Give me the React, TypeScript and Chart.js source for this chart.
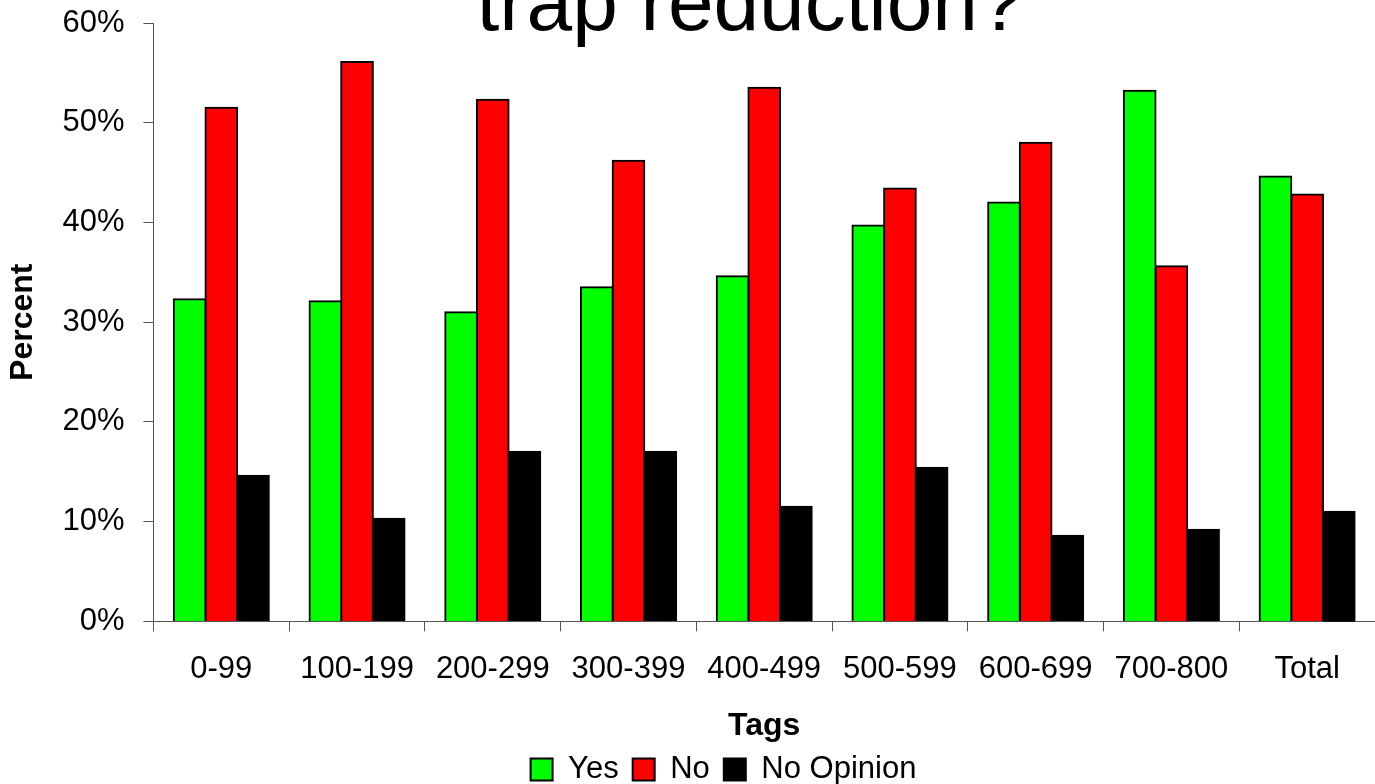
import React, { useEffect, useRef } from "react";
import { Chart, registerables } from "chart.js";

Chart.register(...registerables);

const categories = ["0-99", "100-199", "200-299", "300-399", "400-499", "500-599", "600-699", "700-800", "Total"];
const yesValues = [32.3, 32.1, 31.0, 33.5, 34.6, 39.7, 42.0, 53.2, 44.6];
const noValues = [51.5, 56.1, 52.3, 46.2, 53.5, 43.4, 48.0, 35.6, 42.8];
const noOpinionValues = [14.6, 10.3, 17.0, 17.0, 11.5, 15.4, 8.6, 9.2, 11.0];
const seriesNames = ["Yes", "No", "No Opinion"];
const titleText = "trap reduction?";

const FONT = "'Liberation Sans', Arial, sans-serif";

const titlePlugin = {
  id: "topTitle",
  afterLayout(chart: any) {
    // the original legend sits a little right of the canvas centre
    if (chart.legend) {
      chart.legend.left += 36;
      chart.legend.right += 36;
    }
  },
  afterDraw(chart: any) {
    const ctx = chart.ctx;
    ctx.save();
    ctx.font = `82px ${FONT}`;
    ctx.fillStyle = "#000";
    ctx.textAlign = "center";
    ctx.textBaseline = "alphabetic";
    ctx.fillText(titleText, 750, 30);
    ctx.restore();
  },
};

const noOverflow = (scale: any) => {
  scale.paddingTop = 0;
  scale.paddingBottom = 0;
  scale.paddingLeft = 0;
  scale.paddingRight = 0;
};

export default function App() {
  const ref = useRef<HTMLCanvasElement | null>(null);
  useEffect(() => {
    if (!ref.current) return;
    const barStyle = { borderColor: "#000", borderWidth: 2, inflateAmount: 1 };
    const chart = new Chart(ref.current, {
      type: "bar",
      data: {
        labels: categories,
        datasets: [
          { label: seriesNames[0], data: yesValues, backgroundColor: "#00FF00", ...barStyle },
          { label: seriesNames[1], data: noValues, backgroundColor: "#FF0000", ...barStyle },
          { label: seriesNames[2], data: noOpinionValues, backgroundColor: "#000000", ...barStyle },
        ],
      },
      options: {
        animation: false,
        responsive: true,
        maintainAspectRatio: false,
        layout: { padding: { top: 23, right: 0, left: 0, bottom: 0 } },
        datasets: { bar: { categoryPercentage: 0.7, barPercentage: 1.0 } },
        plugins: {
          title: { display: false },
          tooltip: { enabled: false },
          legend: {
            position: "bottom",
            maxHeight: 44,
            labels: {
              font: { family: FONT, size: 31 },
              color: "#000",
              boxWidth: 22,
              boxHeight: 22,
              padding: 14,
            },
          },
        },
        scales: {
          x: {
            afterFit: noOverflow,
            grid: { offset: true, drawOnChartArea: false, tickLength: 10, color: "#555" },
            border: { color: "#555", width: 1 },
            ticks: { font: { family: FONT, size: 31 }, color: "#000", padding: 19, maxRotation: 0 },
            title: { display: true, text: "Tags", font: { family: FONT, size: 32, weight: "bold" }, color: "#000", padding: { top: 0, bottom: -5 } },
          },
          y: {
            afterFit: noOverflow,
            min: 0,
            max: 60,
            ticks: { stepSize: 10, font: { family: FONT, size: 31 }, color: "#000", padding: 19, callback: (v: any) => v + "%" },
            grid: { drawOnChartArea: false, tickLength: 10, color: "#555" },
            border: { color: "#555", width: 1 },
            title: { display: true, text: "Percent", font: { family: FONT, size: 32, weight: "bold" }, color: "#000", padding: { top: 4, bottom: 1 } },
          },
        },
      },
      plugins: [titlePlugin],
    });
    return () => chart.destroy();
  }, []);
  return (
    <div style={{ position: "fixed", left: 0, top: 0, width: 1375, height: 784, background: "#fff" }}>
      <canvas ref={ref} />
    </div>
  );
}
